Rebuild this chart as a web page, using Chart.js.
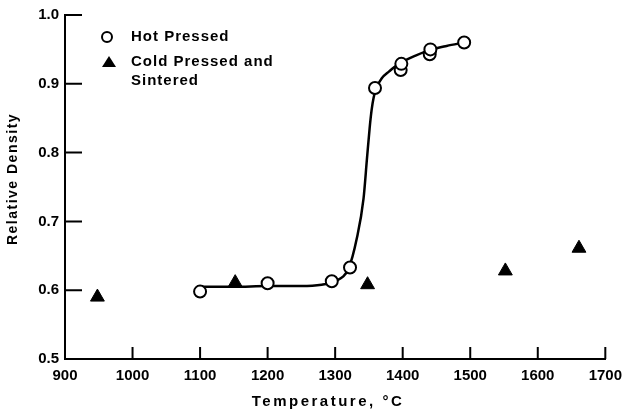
<!DOCTYPE html>
<html>
<head>
<meta charset="utf-8">
<script src="https://cdn.jsdelivr.net/npm/chart.js@4/dist/chart.umd.min.js"></script>
<style>
html,body{margin:0;padding:0;background:#fff;}
#wrap{position:relative;width:630px;height:411px;}
</style>
</head>
<body>
<div id="wrap"><canvas id="c" width="630" height="411"></canvas></div>
<script>
// ---- data ----
const hotTemps   = [1100, 1200, 1295, 1322, 1359, 1397, 1398, 1440, 1441, 1491];
const hotDensity = [0.598, 0.610, 0.613, 0.633, 0.894, 0.920, 0.929, 0.943, 0.950, 0.960];

const coldTemps   = [948, 1152, 1348, 1552, 1661];
const coldDensity = [0.590, 0.611, 0.608, 0.628, 0.661];

// hand-drawn fitted curve through hot-pressed points
const curveTemps   = [1100, 1150, 1200, 1250, 1280, 1300, 1320, 1332, 1342, 1347, 1351, 1354, 1357, 1361, 1369, 1380, 1394, 1419, 1440, 1465, 1491];
const curveDensity = [0.605, 0.605, 0.606, 0.606, 0.608, 0.613, 0.632, 0.675, 0.733, 0.790, 0.835, 0.862, 0.880, 0.894, 0.908, 0.918, 0.929, 0.941, 0.949, 0.955, 0.960];

const xTicks = [900, 1000, 1100, 1200, 1300, 1400, 1500, 1600, 1700];
const yTicks = [0.5, 0.6, 0.7, 0.8, 0.9, 1.0];

const legendLabels = ['Hot Pressed', 'Cold Pressed and', 'Sintered'];
const xTitle = 'Temperature, °C';
const yTitle = 'Relative Density';

const toXY = (xs, ys) => xs.map((x, i) => ({x: x, y: ys[i]}));

const FONT = "'Liberation Sans', Arial, sans-serif";

const inwardTicks = {
  id: 'inwardTicks',
  afterDraw(chart) {
    const ctx = chart.ctx, xs = chart.scales.x, ys = chart.scales.y;
    ctx.save();
    ctx.strokeStyle = '#000';
    ctx.lineWidth = 2;
    ctx.beginPath();
    xTicks.forEach(v => {
      const px = xs.getPixelForValue(v);
      ctx.moveTo(px, ys.bottom);
      ctx.lineTo(px, ys.bottom - 12);
    });
    yTicks.forEach(v => {
      const py = ys.getPixelForValue(v);
      ctx.moveTo(xs.left, py);
      ctx.lineTo(xs.left + 17, py);
    });
    ctx.stroke();
    ctx.restore();
  }
};

const textPlugin = {
  id: 'textPlugin',
  afterDraw(chart) {
    const ctx = chart.ctx;
    ctx.save();
    ctx.strokeStyle = '#000';
    ctx.fillStyle = '#000';
    ctx.lineWidth = 2;
    // legend: circle marker
    ctx.beginPath();
    ctx.arc(107, 37, 5, 0, Math.PI * 2);
    ctx.fillStyle = '#fff';
    ctx.fill();
    ctx.stroke();
    // legend: triangle marker
    ctx.fillStyle = '#000';
    ctx.beginPath();
    ctx.moveTo(109, 56);
    ctx.lineTo(116, 67);
    ctx.lineTo(102, 67);
    ctx.closePath();
    ctx.fill();
    ctx.font = "bold 15px " + FONT;
    ctx.textBaseline = 'middle';
    ctx.textAlign = 'left';
    if ('letterSpacing' in ctx) ctx.letterSpacing = '1px';
    ctx.fillText(legendLabels[0], 131, 37);
    ctx.fillText(legendLabels[1], 131, 62);
    ctx.fillText(legendLabels[2], 131, 81);
    // axis titles
    ctx.textAlign = 'center';
    if ('letterSpacing' in ctx) ctx.letterSpacing = '2.5px';
    ctx.font = "bold 15px " + FONT;
    ctx.fillText(xTitle, 328, 402);
    ctx.translate(13, 179);
    ctx.rotate(-Math.PI / 2);
    if ('letterSpacing' in ctx) ctx.letterSpacing = '1.5px';
    ctx.font = "bold 14px " + FONT;
    ctx.fillText(yTitle, 0, 0);
    ctx.restore();
  }
};

new Chart(document.getElementById('c'), {
  data: {
    datasets: [
      {
        type: 'scatter',
        label: 'Hot Pressed',
        data: toXY(hotTemps, hotDensity),
        pointStyle: 'circle',
        pointRadius: 6,
        pointBackgroundColor: '#fff',
        pointBorderColor: '#000',
        pointBorderWidth: 2,
        order: 1
      },
      {
        type: 'scatter',
        label: 'Cold Pressed and Sintered',
        data: toXY(coldTemps, coldDensity),
        pointStyle: 'triangle',
        pointRadius: 8,
        pointBackgroundColor: '#000',
        pointBorderColor: '#000',
        pointBorderWidth: 1,
        order: 2
      },
      {
        type: 'line',
        label: 'fit',
        data: toXY(curveTemps, curveDensity),
        borderColor: '#000',
        borderWidth: 2.5,
        pointRadius: 0,
        fill: false,
        cubicInterpolationMode: 'monotone',
        order: 3
      }
    ]
  },
  options: {
    responsive: false,
    animation: false,
    devicePixelRatio: 1,
    layout: {padding: {top: 15, right: 23, left: 0, bottom: 0}},
    plugins: {legend: {display: false}, tooltip: {enabled: false}},
    scales: {
      x: {
        type: 'linear',
        min: 900, max: 1700,
        afterBuildTicks: s => { s.ticks = xTicks.map(v => ({value: v})); },
        afterFit: s => { s.height = 52; },
        grid: {display: true, drawOnChartArea: false, drawTicks: false},
        border: {display: true, color: '#000', width: 2},
        ticks: {color: '#000', font: {family: FONT, size: 15, weight: 'bold'}, padding: 8, maxRotation: 0, callback: v => String(v)},
        title: {display: false}
      },
      y: {
        type: 'linear',
        min: 0.5, max: 1.0,
        afterBuildTicks: s => { s.ticks = yTicks.map(v => ({value: v})); },
        afterFit: s => { s.width = 65; },
        grid: {display: true, drawOnChartArea: false, drawTicks: false},
        border: {display: true, color: '#000', width: 2},
        ticks: {color: '#000', font: {family: FONT, size: 15, weight: 'bold'}, padding: 6, callback: v => v.toFixed(1)},
        title: {display: false}
      }
    }
  },
  plugins: [inwardTicks, textPlugin]
});
</script>
</body>
</html>
